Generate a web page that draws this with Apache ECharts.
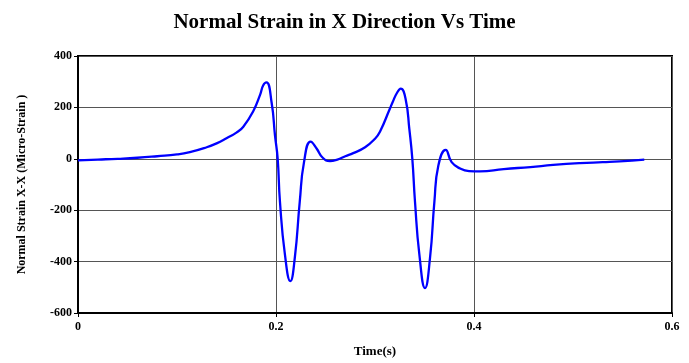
<!DOCTYPE html>
<html>
<head>
<meta charset="utf-8">
<script src="https://cdn.jsdelivr.net/npm/echarts@6/dist/echarts.min.js"></script>
<style>
  html, body { margin: 0; padding: 0; background: #fff; }
  #chart { width: 689px; height: 363px; }
</style>
</head>
<body>
<div id="chart"></div>
<script>
// time (s) and strain (micro-strain)
const times = [
  0.000, 0.020, 0.040, 0.060, 0.080, 0.100, 0.113, 0.130, 0.140, 0.150,
  0.160, 0.167, 0.177, 0.184, 0.187, 0.1904, 0.1956, 0.199, 0.2017, 0.204,
  0.209, 0.2145, 0.219, 0.224, 0.2283, 0.235, 0.241, 0.247, 0.2545, 0.262,
  0.270, 0.278, 0.290, 0.300, 0.305, 0.315, 0.318, 0.322, 0.326, 0.331,
  0.3347, 0.3377, 0.3404, 0.3448, 0.3505, 0.3556, 0.360, 0.364, 0.3714, 0.3774,
  0.386, 0.395, 0.406, 0.430, 0.457, 0.480, 0.507, 0.530, 0.547, 0.572
];
const strain = [
  -6, -3, 0, 4, 10, 17, 26, 45, 60, 80,
  102, 125, 185, 250, 285, 297, 218, 90, 0, -167,
  -372, -476, -385, -167, -13, 67, 40, 5, -9, -3,
  10, 22, 45, 78, 105, 195, 222, 255, 273, 231,
  115, 0, -167, -372, -503, -385, -167, -26, 35, -13,
  -38, -48, -49, -40, -32, -24, -17, -13, -10, -3
];
const xTicks = [0, 0.2, 0.4, 0.6];
const yTicks = [-600, -400, -200, 0, 200, 400];

const data = times.map((t, i) => [t, strain[i]]);
const serif = '"Liberation Serif", "DejaVu Serif", serif';

const chart = echarts.init(document.getElementById('chart'));
chart.setOption({
  animation: false,
  backgroundColor: '#fff',
  title: {
    text: 'Normal Strain in X Direction Vs Time',
    left: 'center',
    top: 7,
    textStyle: { fontFamily: serif, fontWeight: 'bold', fontSize: 21, color: '#000' }
  },
  grid: {
    left: 78, right: 17, top: 56, bottom: 47,
    show: true, borderColor: '#000', borderWidth: 2, backgroundColor: '#fff'
  },
  xAxis: {
    type: 'value',
    min: xTicks[0], max: xTicks[xTicks.length - 1], interval: 0.2,
    name: 'Time(s)', nameLocation: 'middle', nameGap: 32,
    nameTextStyle: { fontFamily: serif, fontWeight: 'bold', fontSize: 13, color: '#000' },
    axisLine: { onZero: false, lineStyle: { color: '#000', width: 2 } },
    axisTick: { show: true, length: 4, lineStyle: { color: '#000' } },
    axisLabel: { fontFamily: serif, fontWeight: 'bold', fontSize: 12, color: '#000', margin: 8 },
    splitLine: { show: true, lineStyle: { color: '#555', width: 1 } }
  },
  yAxis: {
    type: 'value',
    min: yTicks[0], max: yTicks[yTicks.length - 1], interval: 200,
    name: 'Normal Strain X-X (Micro-Strain )', nameLocation: 'middle', nameGap: 50,
    nameTextStyle: { fontFamily: serif, fontWeight: 'bold', fontSize: 12, color: '#000' },
    axisLine: { show: true, onZero: false, lineStyle: { color: '#000', width: 2 } },
    axisTick: { show: true, length: 4, lineStyle: { color: '#000' } },
    axisLabel: { fontFamily: serif, fontWeight: 'bold', fontSize: 12, color: '#000', margin: 6 },
    splitLine: { show: true, lineStyle: { color: '#555', width: 1 } }
  },
  series: [{
    type: 'line',
    data: data,
    smooth: 0.5,
    showSymbol: false,
    lineStyle: { color: '#0000ff', width: 2.3 }
  }]
});
</script>
</body>
</html>
